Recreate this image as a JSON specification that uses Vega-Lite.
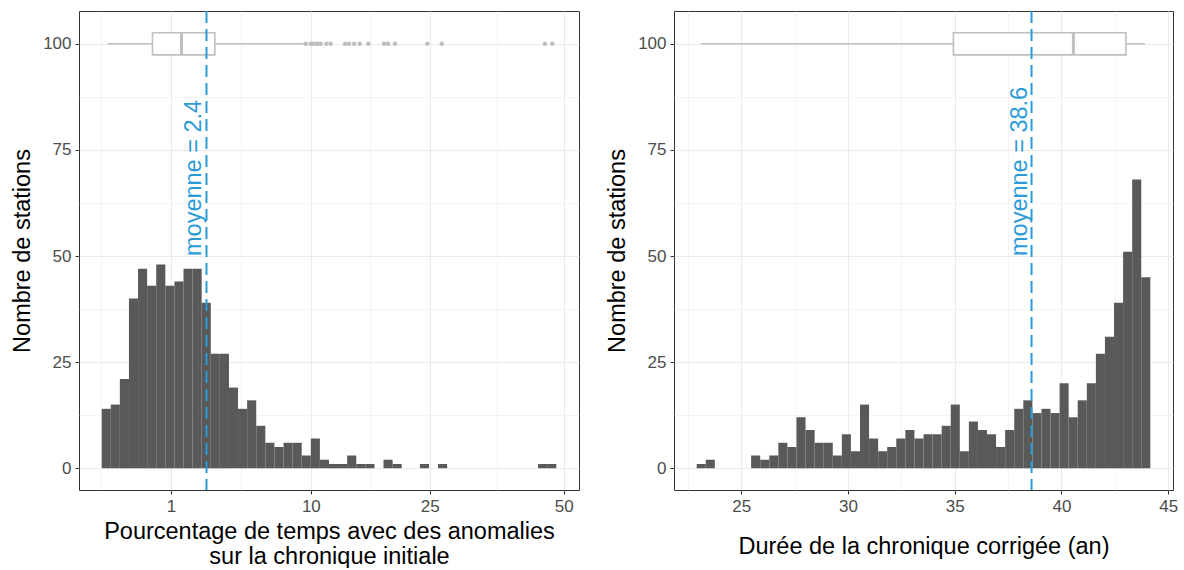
{
  "$schema": "https://vega.github.io/schema/vega-lite/v6.json",
  "background": "white",
  "padding": {"left": 10, "top": 9, "right": 8, "bottom": 0},
  "spacing": 25,
  "config": {
    "view": {"stroke": "#333333", "strokeWidth": 1},
    "font": "Liberation Sans",
    "axis": {
      "domain": false,
      "tickColor": "#333333",
      "tickSize": 4,
      "tickWidth": 1,
      "labelColor": "#4D4D4D",
      "labelFontSize": 17,
      "labelFont": "Liberation Sans",
      "titleFont": "Liberation Sans",
      "titleFontSize": 23.5,
      "titleFontWeight": "normal",
      "titleColor": "#000000",
      "gridColor": "#EBEBEB",
      "labelOverlap": false,
      "labelFlush": false,
      "labelPadding": 4,
      "titlePadding": 8,
      "titleLineHeight": 25
    }
  },
  "datasets": {
    "histL": [
      {"lo": -0.0049, "hi": 0.0049, "n": 14},
      {"lo": 0.0049, "hi": 0.0444, "n": 15},
      {"lo": 0.0444, "hi": 0.1234, "n": 21},
      {"lo": 0.1234, "hi": 0.2418, "n": 40},
      {"lo": 0.2418, "hi": 0.3997, "n": 47},
      {"lo": 0.3997, "hi": 0.5971, "n": 43},
      {"lo": 0.5971, "hi": 0.834, "n": 48},
      {"lo": 0.834, "hi": 1.1104, "n": 43},
      {"lo": 1.1104, "hi": 1.4262, "n": 44},
      {"lo": 1.4262, "hi": 1.7816, "n": 47},
      {"lo": 1.7816, "hi": 2.1764, "n": 47},
      {"lo": 2.1764, "hi": 2.6107, "n": 39},
      {"lo": 2.6107, "hi": 3.0844, "n": 27},
      {"lo": 3.0844, "hi": 3.5977, "n": 27},
      {"lo": 3.5977, "hi": 4.1504, "n": 19},
      {"lo": 4.1504, "hi": 4.7426, "n": 14},
      {"lo": 4.7426, "hi": 5.3743, "n": 16},
      {"lo": 5.3743, "hi": 6.0455, "n": 10},
      {"lo": 6.0455, "hi": 6.7561, "n": 6},
      {"lo": 6.7561, "hi": 7.5062, "n": 5},
      {"lo": 7.5062, "hi": 8.2958, "n": 6},
      {"lo": 8.2958, "hi": 9.1249, "n": 6},
      {"lo": 9.1249, "hi": 9.9935, "n": 3},
      {"lo": 9.9935, "hi": 10.9016, "n": 7},
      {"lo": 10.9016, "hi": 11.8491, "n": 2},
      {"lo": 11.8491, "hi": 12.8361, "n": 1},
      {"lo": 12.8361, "hi": 13.8626, "n": 1},
      {"lo": 13.8626, "hi": 14.9286, "n": 3},
      {"lo": 14.9286, "hi": 16.034, "n": 1},
      {"lo": 16.034, "hi": 17.179, "n": 1},
      {"lo": 18.3634, "hi": 19.5873, "n": 2},
      {"lo": 19.5873, "hi": 20.8506, "n": 1},
      {"lo": 23.4958, "hi": 24.8777, "n": 1},
      {"lo": 26.2989, "hi": 27.7597, "n": 1},
      {"lo": 44.5389, "hi": 46.434, "n": 1},
      {"lo": 46.434, "hi": 48.3685, "n": 1}
    ],
    "boxL": [
      {"wlo": 0.0004, "q1": 0.511, "med": 1.352, "q3": 2.818, "whi": 9.45, "mean": 2.4, "label": "moyenne = 2.4"}
    ],
    "outL": [
      {"v": 9.51}, {"v": 9.99}, {"v": 10.2}, {"v": 10.49}, {"v": 10.7}, {"v": 11.0}, {"v": 11.58}, {"v": 12.04},
      {"v": 13.63}, {"v": 14.08}, {"v": 14.67}, {"v": 15.35}, {"v": 16.41}, {"v": 18.43}, {"v": 18.97},
      {"v": 19.92}, {"v": 24.62}, {"v": 26.88}, {"v": 45.97}, {"v": 47.51}
    ],
    "histR": [
      {"lo": 22.918, "hi": 23.342, "n": 1},
      {"lo": 23.342, "hi": 23.767, "n": 2},
      {"lo": 25.467, "hi": 25.892, "n": 3},
      {"lo": 25.892, "hi": 26.317, "n": 2},
      {"lo": 26.317, "hi": 26.742, "n": 3},
      {"lo": 26.742, "hi": 27.167, "n": 6},
      {"lo": 27.167, "hi": 27.591, "n": 5},
      {"lo": 27.591, "hi": 28.016, "n": 12},
      {"lo": 28.016, "hi": 28.441, "n": 9},
      {"lo": 28.441, "hi": 28.866, "n": 6},
      {"lo": 28.866, "hi": 29.291, "n": 6},
      {"lo": 29.291, "hi": 29.716, "n": 3},
      {"lo": 29.716, "hi": 30.141, "n": 8},
      {"lo": 30.141, "hi": 30.566, "n": 4},
      {"lo": 30.566, "hi": 30.991, "n": 15},
      {"lo": 30.991, "hi": 31.416, "n": 7},
      {"lo": 31.416, "hi": 31.84, "n": 4},
      {"lo": 31.84, "hi": 32.265, "n": 5},
      {"lo": 32.265, "hi": 32.69, "n": 7},
      {"lo": 32.69, "hi": 33.115, "n": 9},
      {"lo": 33.115, "hi": 33.54, "n": 7},
      {"lo": 33.54, "hi": 33.965, "n": 8},
      {"lo": 33.965, "hi": 34.39, "n": 8},
      {"lo": 34.39, "hi": 34.815, "n": 10},
      {"lo": 34.815, "hi": 35.24, "n": 15},
      {"lo": 35.24, "hi": 35.665, "n": 4},
      {"lo": 35.665, "hi": 36.089, "n": 11},
      {"lo": 36.089, "hi": 36.514, "n": 9},
      {"lo": 36.514, "hi": 36.939, "n": 8},
      {"lo": 36.939, "hi": 37.364, "n": 5},
      {"lo": 37.364, "hi": 37.789, "n": 9},
      {"lo": 37.789, "hi": 38.214, "n": 14},
      {"lo": 38.214, "hi": 38.639, "n": 16},
      {"lo": 38.639, "hi": 39.064, "n": 13},
      {"lo": 39.064, "hi": 39.489, "n": 14},
      {"lo": 39.489, "hi": 39.914, "n": 13},
      {"lo": 39.914, "hi": 40.338, "n": 20},
      {"lo": 40.338, "hi": 40.763, "n": 12},
      {"lo": 40.763, "hi": 41.188, "n": 16},
      {"lo": 41.188, "hi": 41.613, "n": 20},
      {"lo": 41.613, "hi": 42.038, "n": 27},
      {"lo": 42.038, "hi": 42.463, "n": 31},
      {"lo": 42.463, "hi": 42.888, "n": 39},
      {"lo": 42.888, "hi": 43.313, "n": 51},
      {"lo": 43.313, "hi": 43.738, "n": 68},
      {"lo": 43.738, "hi": 44.163, "n": 45}
    ],
    "boxR": [
      {"wlo": 23.11, "q1": 34.94, "med": 40.56, "q3": 43.02, "whi": 43.91, "mean": 38.6, "label": "moyenne = 38.6"}
    ]
  },
  "hconcat": [
    {
      "width": 500,
      "height": 479,
      "layer": [
        {
          "data": {"name": "histL"},
          "mark": {"type": "rect", "color": "#595959"},
          "encoding": {
            "x": {
              "field": "lo", "type": "quantitative",
              "scale": {"type": "sqrt", "domain": [-0.177, 53.38], "nice": false, "zero": false},
              "title": ["Pourcentage de temps avec des anomalies", "sur la chronique initiale"],
              "axis": {
                "titlePadding": 5,
                "values": [-0.006584, 1, 4.3311, 10, 16.6557, 25, 36.4277, 50],
                "labelExpr": "indexof([1,10,25,50], datum.value) >= 0 ? datum.label : ''",
                "gridWidth": {"condition": {"test": "indexof([1,10,25,50], datum.value) >= 0", "value": 1.1}, "value": 0.55},
                "tickOpacity": {"condition": {"test": "indexof([1,10,25,50], datum.value) >= 0", "value": 1}, "value": 0}
              }
            },
            "x2": {"field": "hi"},
            "y": {
              "field": "n", "type": "quantitative",
              "scale": {"domain": [-5.13, 107.73], "nice": false, "zero": false},
              "title": "Nombre de stations",
              "axis": {
                "values": [0, 12.5, 25, 37.5, 50, 62.5, 75, 87.5, 100],
                "labelExpr": "datum.value % 25 === 0 ? datum.label : ''",
                "gridWidth": {"condition": {"test": "datum.value % 25 === 0", "value": 1.1}, "value": 0.55},
                "tickOpacity": {"condition": {"test": "datum.value % 25 === 0", "value": 1}, "value": 0}
              }
            },
            "y2": {"datum": 0}
          }
        },
        {
          "data": {"name": "boxL"},
          "mark": {"type": "rule", "color": "#BFBFBF", "strokeWidth": 1.5},
          "encoding": {
            "x": {"field": "wlo", "type": "quantitative"},
            "x2": {"field": "whi"},
            "y": {"datum": 100}
          }
        },
        {
          "data": {"name": "boxL"},
          "mark": {"type": "rect", "fill": "white", "stroke": "#BFBFBF", "strokeWidth": 1.6},
          "encoding": {
            "x": {"field": "q1", "type": "quantitative"},
            "x2": {"field": "q3"},
            "y": {"datum": 97.4},
            "y2": {"datum": 102.6}
          }
        },
        {
          "data": {"name": "boxL"},
          "mark": {"type": "rule", "color": "#BFBFBF", "strokeWidth": 3},
          "encoding": {
            "x": {"field": "med", "type": "quantitative"},
            "y": {"datum": 97.4},
            "y2": {"datum": 102.6}
          }
        },
        {
          "data": {"name": "outL"},
          "mark": {"type": "circle", "color": "#BFBFBF", "opacity": 1, "size": 20},
          "encoding": {
            "x": {"field": "v", "type": "quantitative"},
            "y": {"datum": 100}
          }
        },
        {
          "data": {"name": "boxL"},
          "mark": {"type": "rule", "color": "#2B9BD8", "strokeDash": [12, 6], "strokeWidth": 2},
          "encoding": {"x": {"field": "mean", "type": "quantitative"}}
        },
        {
          "data": {"name": "boxL"},
          "mark": {"type": "text", "angle": 270, "align": "left", "baseline": "alphabetic", "dy": -5, "fontSize": 23.5, "color": "#2B9BD8", "font": "Liberation Sans"},
          "encoding": {
            "x": {"field": "mean", "type": "quantitative"},
            "y": {"datum": 50},
            "text": {"field": "label"}
          }
        }
      ]
    },
    {
      "width": 499,
      "height": 479,
      "layer": [
        {
          "data": {"name": "histR"},
          "mark": {"type": "rect", "color": "#595959"},
          "encoding": {
            "x": {
              "field": "lo", "type": "quantitative",
              "scale": {"domain": [21.855, 45.225], "nice": false, "zero": false},
              "title": "Durée de la chronique corrigée (an)",
              "axis": {
                "titlePadding": 20,
                "values": [22.5, 25, 27.5, 30, 32.5, 35, 37.5, 40, 42.5, 45],
                "labelExpr": "datum.value % 5 === 0 ? datum.label : ''",
                "gridWidth": {"condition": {"test": "datum.value % 5 === 0", "value": 1.1}, "value": 0.55},
                "tickOpacity": {"condition": {"test": "datum.value % 5 === 0", "value": 1}, "value": 0}
              }
            },
            "x2": {"field": "hi"},
            "y": {
              "field": "n", "type": "quantitative",
              "scale": {"domain": [-5.13, 107.73], "nice": false, "zero": false},
              "title": "Nombre de stations",
              "axis": {
                "values": [0, 12.5, 25, 37.5, 50, 62.5, 75, 87.5, 100],
                "labelExpr": "datum.value % 25 === 0 ? datum.label : ''",
                "gridWidth": {"condition": {"test": "datum.value % 25 === 0", "value": 1.1}, "value": 0.55},
                "tickOpacity": {"condition": {"test": "datum.value % 25 === 0", "value": 1}, "value": 0}
              }
            },
            "y2": {"datum": 0}
          }
        },
        {
          "data": {"name": "boxR"},
          "mark": {"type": "rule", "color": "#BFBFBF", "strokeWidth": 1.5},
          "encoding": {
            "x": {"field": "wlo", "type": "quantitative"},
            "x2": {"field": "whi"},
            "y": {"datum": 100}
          }
        },
        {
          "data": {"name": "boxR"},
          "mark": {"type": "rect", "fill": "white", "stroke": "#BFBFBF", "strokeWidth": 1.6},
          "encoding": {
            "x": {"field": "q1", "type": "quantitative"},
            "x2": {"field": "q3"},
            "y": {"datum": 97.4},
            "y2": {"datum": 102.6}
          }
        },
        {
          "data": {"name": "boxR"},
          "mark": {"type": "rule", "color": "#BFBFBF", "strokeWidth": 3},
          "encoding": {
            "x": {"field": "med", "type": "quantitative"},
            "y": {"datum": 97.4},
            "y2": {"datum": 102.6}
          }
        },
        {
          "data": {"name": "boxR"},
          "mark": {"type": "rule", "color": "#2B9BD8", "strokeDash": [12, 6], "strokeWidth": 2},
          "encoding": {"x": {"field": "mean", "type": "quantitative"}}
        },
        {
          "data": {"name": "boxR"},
          "mark": {"type": "text", "angle": 270, "align": "left", "baseline": "alphabetic", "dy": -5, "fontSize": 23.5, "color": "#2B9BD8", "font": "Liberation Sans"},
          "encoding": {
            "x": {"field": "mean", "type": "quantitative"},
            "y": {"datum": 50},
            "text": {"field": "label"}
          }
        }
      ]
    }
  ]
}
